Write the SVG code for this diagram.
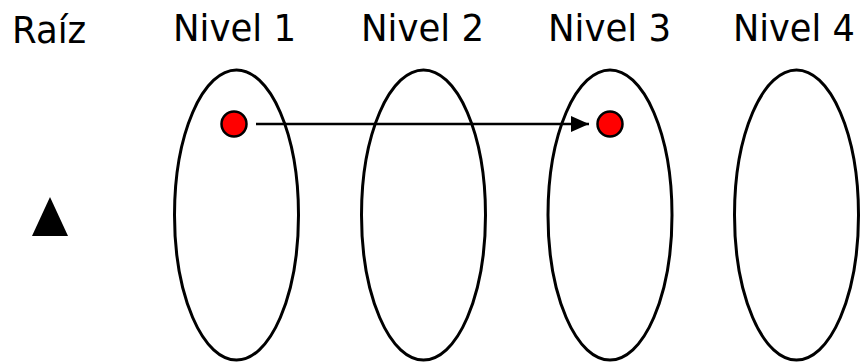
<svg xmlns="http://www.w3.org/2000/svg" width="862" height="362" viewBox="0 0 862 362">
<style>
text{font-family:"DejaVu Sans",sans-serif;font-size:38px;fill:#000}
.lvl{fill:none;stroke:#000;stroke-width:3}
.dot{fill:#f00;stroke:#000;stroke-width:2.5}
.conn{stroke:#000;stroke-width:2.5;fill:none}
</style>
<defs>
<marker id="ah" markerUnits="userSpaceOnUse" markerWidth="20" markerHeight="16" refX="18" refY="8" orient="auto">
<path d="M0,0 L18,8 L0,16 Z" fill="#000"/>
</marker>
</defs>
<g id="root"><text transform="translate(12,43) scale(0.935,1)">Raíz</text><path d="M50,197 L68,236 L32,236 Z" fill="#000"/></g>
<g id="level1"><text transform="translate(173,41) scale(0.935,1)">Nivel 1</text><ellipse class="lvl" cx="236.5" cy="215" rx="62" ry="145"/></g>
<g id="level2"><text transform="translate(361,41) scale(0.935,1)">Nivel 2</text><ellipse class="lvl" cx="423.5" cy="215" rx="62" ry="145"/></g>
<g id="level3"><text transform="translate(548,41) scale(0.935,1)">Nivel 3</text><ellipse class="lvl" cx="610" cy="215" rx="62" ry="145"/></g>
<g id="level4"><text transform="translate(733,41) scale(0.925,1)">Nivel 4</text><ellipse class="lvl" cx="796.5" cy="215" rx="62" ry="145"/></g>
<g id="nodeA"><circle class="dot" cx="234" cy="124" r="12.5"/></g>
<g id="nodeB"><circle class="dot" cx="610" cy="124" r="12.5"/></g>
<g id="connectors"><line class="conn" x1="256" y1="124" x2="589" y2="124" marker-end="url(#ah)"/></g>
</svg>
